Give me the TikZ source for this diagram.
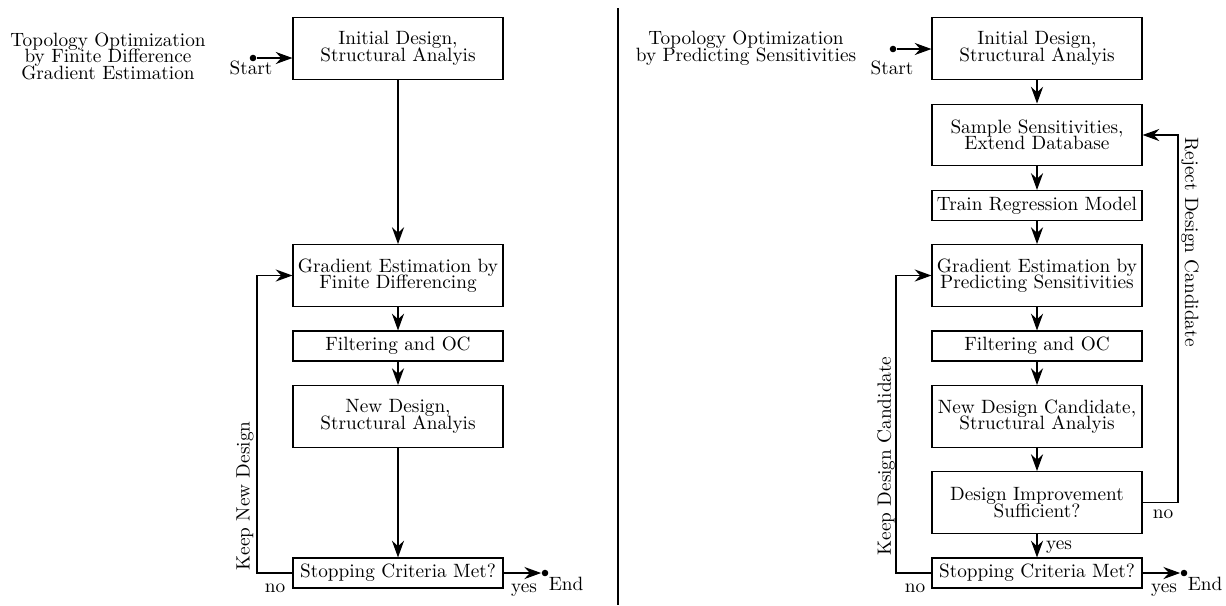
\documentclass[tikz,border=0pt]{standalone}
\usepackage{tikz}
\usetikzlibrary{arrows.meta}
\lineskiplimit=-20pt
\tikzstyle{every path}=[line width=0.65pt]
\tikzstyle{every node}=[font=\fontsize{10.3}{8.8}\selectfont, align=center]
\tikzstyle{block}=[draw, line width=0.65pt, minimum width=112.3pt, minimum height=33pt, inner sep=1pt]
\tikzstyle{thinblock}=[block, minimum height=16pt]
\tikzstyle{flow}=[-{Stealth[length=9pt, width=6.5pt, inset=3pt]}]
\tikzstyle{terminal}=[circle, fill, inner sep=0pt, minimum size=3.5pt]

\begin{document}
\begin{tikzpicture}[x=0.535pt, y=-0.535pt]
            \useasboundingbox (0,0) rectangle (1226,605);

            % finite difference flow
            \node (titleL) at (108,56) {Topology Optimization\\ by Finite Difference\\ Gradient Estimation};
            \node[block] (initL) at (398,48.5) {Initial Design,\\ Structural Analyis};
            \node[block] (gradL) at (398,275.5) {Gradient Estimation by\\ Finite Differencing};
            \node[thinblock] (filtL) at (398,346) {Filtering and OC};
            \node[block] (newL) at (398,416.5) {New Design,\\ Structural Analyis};
            \node[thinblock] (stopL) at (398,573) {Stopping Criteria Met?};

            \node[terminal] (startL) at (253,58) {};
            \node (startlabelL) at (251,68) {Start};
            \node[terminal] (endL) at (545,573) {};
            \node (endlabelL) at (566,584) {End};
            \node (yesL) at (524,590) {yes};
            \node (noL) at (275,588) {no};
            \node[rotate=90] (keepL) at (245,496) {Keep New Design};
            \coordinate (loopL) at (257,573);

            \draw[flow] (startL) -- (startL -| initL.west);
            \draw[flow] (initL) -- (gradL);
            \draw[flow] (gradL) -- (filtL);
            \draw[flow] (filtL) -- (newL);
            \draw[flow] (newL) -- (stopL);
            \draw[flow] (stopL) -- (endL);
            \draw[flow] (stopL) -- (loopL) |- (gradL);

            % divider
            \draw (618,8) -- (618,605);

            % predicted sensitivities flow
            \node (titleR) at (746,48) {Topology Optimization\\ by Predicting Sensitivities};
            \node[block] (initR) at (1037,48.5) {Initial Design,\\ Structural Analyis};
            \node[block] (sampR) at (1037,135) {Sample Sensitivities,\\ Extend Database};
            \node[thinblock] (trainR) at (1037,205.5) {Train Regression Model};
            \node[block] (gradR) at (1037,275.5) {Gradient Estimation by\\ Predicting Sensitivities};
            \node[thinblock] (filtR) at (1037,346) {Filtering and OC};
            \node[block] (newR) at (1037,416.5) {New Design Candidate,\\ Structural Analyis};
            \node[block] (impR) at (1037,502.5) {Design Improvement\\ Sufficient?};
            \node[thinblock] (stopR) at (1037,573) {Stopping Criteria Met?};

            \node[terminal] (startR) at (893,49) {};
            \node (startlabelR) at (892,68) {Start};
            \node[terminal] (endR) at (1184,573) {};
            \node (endlabelR) at (1205,584) {End};
            \node (yesR) at (1164,590) {yes};
            \node (noR) at (915,588) {no};
            \node (yesimpR) at (1059,547) {yes};
            \node (noimpR) at (1163,514) {no};
            \node[rotate=90] (keepR) at (886,456) {Keep Design Candidate};
            \node[rotate=-90] (rejectR) at (1190,242) {Reject Design Candidate};
            \coordinate (loopR) at (896,573);
            \coordinate (rejloopR) at (1178,502.5);

            \draw[flow] (startR) -- (startR -| initR.west);
            \draw[flow] (initR) -- (sampR);
            \draw[flow] (sampR) -- (trainR);
            \draw[flow] (trainR) -- (gradR);
            \draw[flow] (gradR) -- (filtR);
            \draw[flow] (filtR) -- (newR);
            \draw[flow] (newR) -- (impR);
            \draw[flow] (impR) -- (stopR);
            \draw[flow] (stopR) -- (endR);
            \draw[flow] (stopR) -- (loopR) |- (gradR);
            \draw[flow] (impR) -- (rejloopR) |- (sampR);
\end{tikzpicture}
\end{document}
